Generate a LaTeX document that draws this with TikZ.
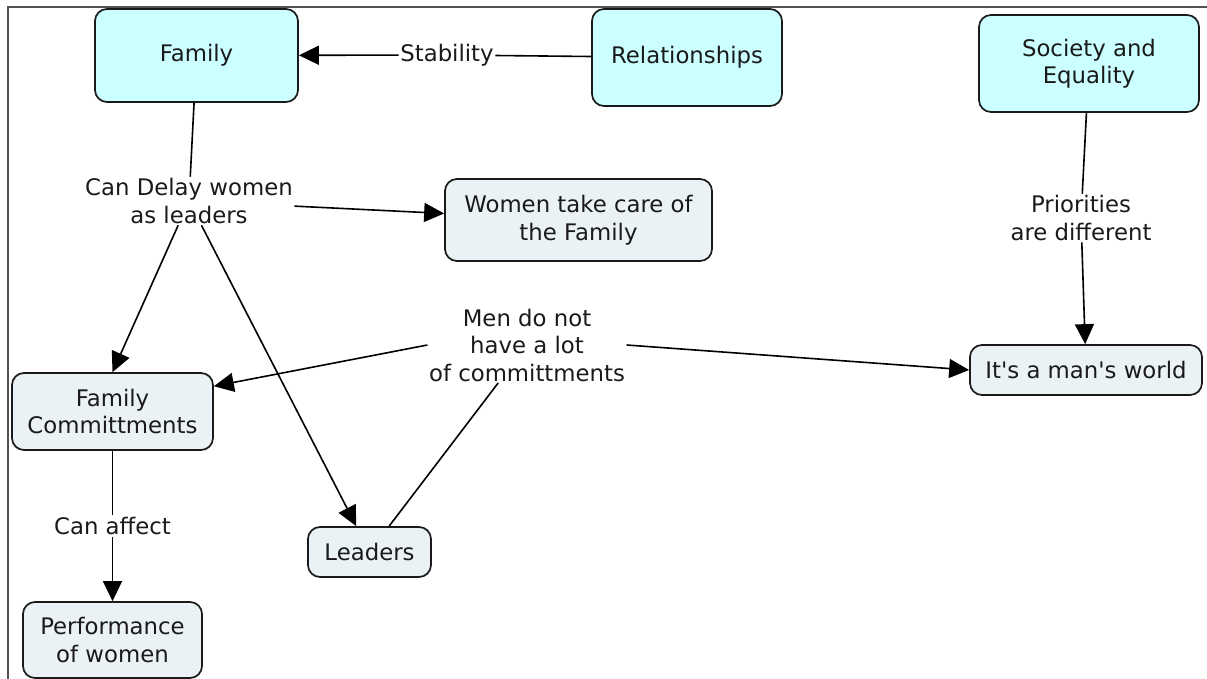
\documentclass[tikz,border=0pt]{standalone}
\usepackage{fontspec}
% plain family so that apostrophes stay straight
\newfontfamily\mapfont{DejaVu Sans}
\usetikzlibrary{arrows.meta}
\definecolor{topfill}{RGB}{204,255,255}
\definecolor{subfill}{RGB}{234,242,245}
\definecolor{ink}{RGB}{26,26,26}
\definecolor{framegray}{RGB}{80,80,80}
\begin{document}
\begin{tikzpicture}[x=1pt,y=-1pt,
  every node/.style={font=\mapfont\fontsize{22.8}{27.5}\selectfont, text=ink, align=center},
  concept/.style={draw=ink, line width=1.7pt, rounded corners=12pt, inner sep=0pt},
  topconcept/.style={concept, fill=topfill},
  subconcept/.style={concept, fill=subfill},
  linklabel/.style={inner sep=1.5pt},
  link/.style={draw=black, line width=1.6pt},
  arrowlink/.style={link, -{Triangle[length=20pt,width=19pt]}},
]
\useasboundingbox (0,0) rectangle (1207,679);
% page frame
\draw[framegray, line width=1.2pt] (8,679) -- (8,7) -- (1207,7);

% concepts
\node[topconcept, minimum width=203pt, minimum height=93pt] (fam) at (196.5,55.5) {Family};
\node[topconcept, minimum width=190pt, minimum height=97pt] (rel) at (687,57.5) {Relationships};
\node[topconcept, minimum width=220pt, minimum height=97pt] (soc) at (1089,63.5) {Society and\\Equality};
\node[subconcept, minimum width=267pt, minimum height=82pt] (wom) at (578.5,220) {Women take care of\\the Family};
\node[subconcept, minimum width=201pt, minimum height=77pt] (fc) at (112.5,411.5) {Family\\Committments};
\node[subconcept, minimum width=123pt, minimum height=50pt] (lead) at (369.5,552) {Leaders};
\node[subconcept, minimum width=179pt, minimum height=76pt] (perf) at (112.5,640) {Performance\\of women};
\node[subconcept, minimum width=232pt, minimum height=50pt] (world) at (1086,370) {It's a man's world};

% linking phrases
\node[linklabel] (stab) at (447,55) {Stability};
\node[linklabel] (cd) at (189,201) {Can Delay women\\as leaders};
\node[linklabel] (men) at (527,345) {Men do not\\have a lot\\of committments};
\node[linklabel] (pri) at (1081,218) {Priorities\\are different};
\node[linklabel] (ca) at (112.5,526) {Can affect};

% connectors
\draw[link] (rel) -- (stab);
\draw[arrowlink] (stab) -- (fam);
\draw[link] (fam) -- (cd);
\draw[arrowlink] (cd) -- (wom);
\draw[arrowlink] (cd) -- (fc.north);
\draw[arrowlink] (cd) -- (lead);
\draw[link] (lead) -- (men);
\draw[arrowlink] (men.west) -- (fc.14);
\draw[arrowlink] (men.east) -- (world.west);
\draw[link] (soc) -- (pri);
\draw[arrowlink] (pri) -- (world);
\draw[link] (fc) -- (ca);
\draw[arrowlink] (ca) -- (perf);
\end{tikzpicture}
\end{document}
